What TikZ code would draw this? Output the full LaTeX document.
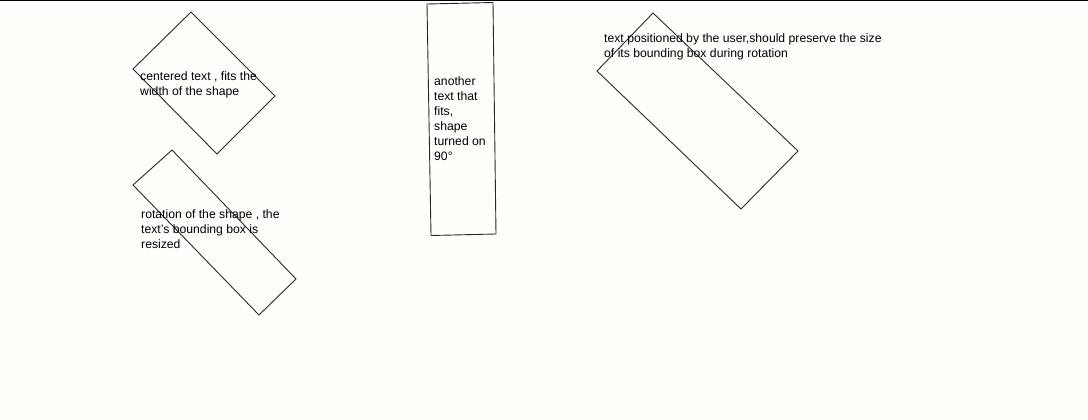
\documentclass[tikz,border=0pt]{standalone}
\usepackage{fontspec}
\setmainfont{Liberation Sans}
\definecolor{bg}{RGB}{254,254,250}
\definecolor{edge}{RGB}{40,40,40}
\begin{document}
\begin{tikzpicture}[x=1pt,y=-1pt,
  shapeline/.style={draw=edge,line width=0.9pt,line join=miter},
  lbl/.style={anchor=base west,inner sep=0pt,align=left,font=\fontsize{12.2}{15}\selectfont,text=black}]
\fill[bg] (0,0) rectangle (1088,420);
\useasboundingbox (0,0) rectangle (1088,420);
\draw[line width=1.6pt,black] (0,0.6) -- (1088,0.6);
% shape 1
\draw[shapeline] (191,12) -- (275,96) -- (217,154) -- (133,69) -- cycle;
% shape 2
\draw[shapeline] (172,150) -- (296,279) -- (259,315) -- (133,185) -- cycle;
% shape 3
\draw[shapeline] (427,4) -- (493,2.5) -- (496,234) -- (431,235.5) -- cycle;
% shape 4
\draw[shapeline] (653,13) -- (798,151) -- (741,209) -- (597,71) -- cycle;
% texts (anchor = baseline of the last line)
\node[lbl] (t1) at (140,95.5) {centered text , fits the\\width of the shape};
\node[lbl] (t2) at (141,248.5) {rotation of the shape , the\\text's bounding box is\\resized};
\node[lbl] (t3) at (434,160) {another\\text that\\fits,\\shape\\turned on\\90°};
\node[lbl] (t4) at (604,57.5) {text positioned by the user,should preserve the size\\of its bounding box during rotation};
\end{tikzpicture}
\end{document}
